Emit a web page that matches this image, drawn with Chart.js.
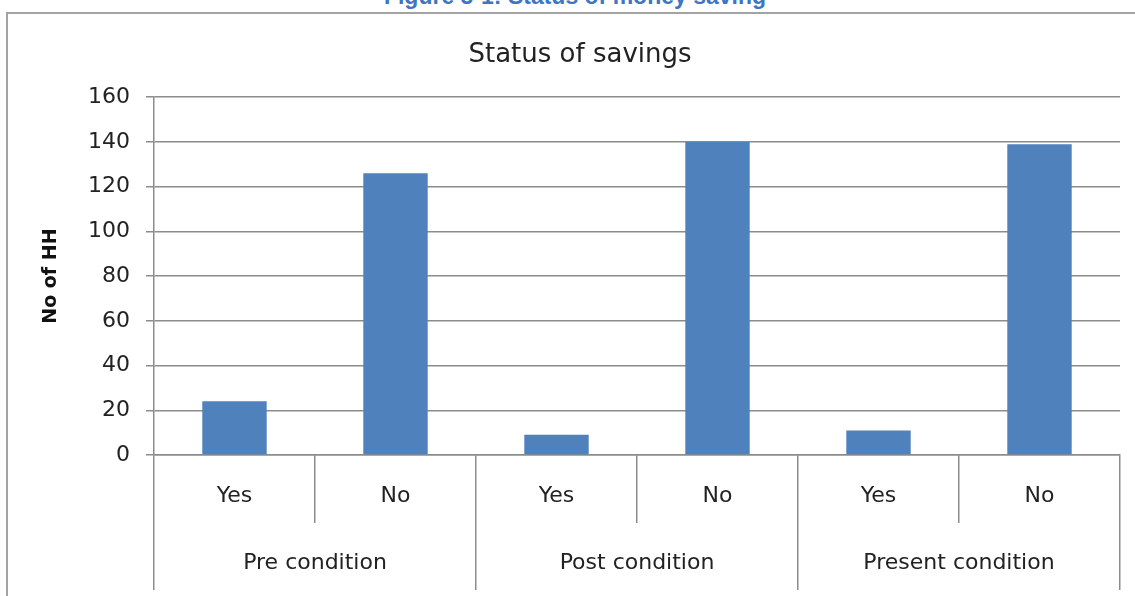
<!DOCTYPE html>
<html>
<head>
<meta charset="utf-8">
<script src="https://cdn.jsdelivr.net/npm/chart.js@4"></script>
<style>
  html, body { margin: 0; padding: 0; background: #fff; overflow: hidden; }
  body { width: 1135px; height: 596px; position: relative; }
  .caption {
    position: absolute; left: 0; top: -15px; width: 1150px; text-align: center;
    font: bold 23px "Liberation Sans", sans-serif; line-height: 23px; color: #3d76c2;
  }
  .frame {
    position: absolute; left: 6px; top: 12px; width: 1200px; height: 700px;
    border: 2px solid #a3a3a3; box-sizing: border-box;
  }
  .wrap { position: absolute; left: 0; top: 0; width: 1135px; height: 596px; }
</style>
</head>
<body>
<div class="caption">Figure 5-1: Status of money saving</div>
<div class="frame"></div>
<div class="wrap"><canvas id="barChart"></canvas></div>
<script>
// data
const answers = ["Yes", "No", "Yes", "No", "Yes", "No"];
const conditions = ["Pre condition", "Post condition", "Present condition"];
const households = [24, 126, 9, 140, 11, 139];
const yTicks = [0, 20, 40, 60, 80, 100, 120, 140, 160];

const gridColor = "#8c8c8c";
const textColor = "#222";

function createChart() {
    const ctx = document.getElementById("barChart");

    new Chart(ctx, {
        type: "bar",
        data: {
            labels: answers,
            datasets: [{
                label: "No of HH",
                data: households,
                backgroundColor: "#4f81bd",
                barPercentage: 0.4,
                categoryPercentage: 1,
                xAxisID: "x"
            }]
        },
        options: {
            responsive: true,
            maintainAspectRatio: false,
            animation: false,
            layout: { padding: { left: 40, right: 15, top: 40, bottom: 6 } },
            plugins: {
                legend: { display: false },
                tooltip: { enabled: false },
                title: {
                    display: true,
                    text: "Status of savings",
                    color: textColor,
                    font: { family: "DejaVu Sans", size: 26, weight: "normal" },
                    padding: { top: 0, bottom: 26 }
                }
            },
            scales: {
                y: {
                    min: yTicks[0],
                    max: yTicks[yTicks.length - 1],
                    afterBuildTicks: (scale) => { scale.ticks = yTicks.map(v => ({ value: v })); },
                    afterFit: (scale) => { scale.width = 114; },
                    grid: { color: gridColor, lineWidth: 1.5, tickLength: 8 },
                    border: { color: gridColor, width: 1.5 },
                    ticks: { color: textColor, padding: 16, font: { family: "DejaVu Sans", size: 22 } },
                    title: {
                        display: true,
                        text: "No of HH",
                        color: "#111",
                        padding: 0,
                        font: { family: "DejaVu Sans", size: 19, weight: "bold" }
                    }
                },
                x: {
                    weight: 0,
                    afterFit: (scale) => { scale.height = 68; },
                    grid: { offset: true, drawOnChartArea: false, tickLength: 68, color: gridColor, lineWidth: 1.5 },
                    border: { color: gridColor, width: 1.5 },
                    ticks: { color: textColor, padding: -40, maxRotation: 0, font: { family: "DejaVu Sans", size: 22 } }
                },
                x2: {
                    type: "category",
                    labels: conditions,
                    position: "bottom",
                    weight: 1,
                    afterFit: (scale) => { scale.height = 67; },
                    grid: { offset: true, drawOnChartArea: false, tickLength: 67, color: gridColor, lineWidth: 1.5 },
                    border: { display: false },
                    ticks: { color: textColor, padding: -40, maxRotation: 0, font: { family: "DejaVu Sans", size: 22 } }
                }
            }
        }
    });
}

createChart();
</script>
</body>
</html>
